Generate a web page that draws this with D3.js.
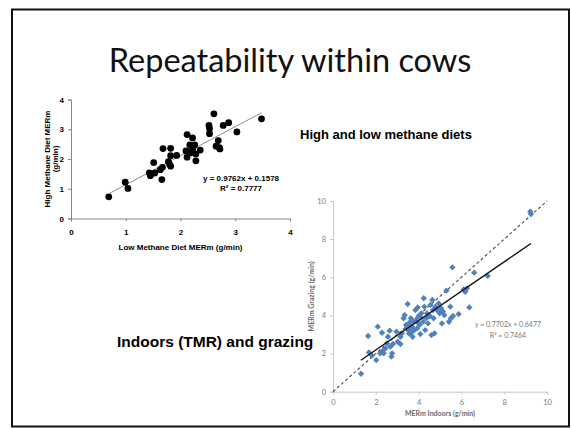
<!DOCTYPE html>
<html><head><meta charset="utf-8">
<script src="https://cdn.jsdelivr.net/npm/d3@7"></script>
<style>html,body{margin:0;padding:0;background:#fff;}svg{display:block;}</style>
</head><body>
<svg id="c" width="571" height="428"></svg>
<script>
// ---- Data ----
const titleText = "Repeatability within cows";
const label1 = "High and low methane diets";
const label2 = "Indoors (TMR) and grazing";

// Left chart: Low vs High methane diet MERm (g/min)
const lowX = [0.69,0.99,1.04,1.43,1.45,1.51,1.53,1.63,1.66,1.67,1.68,1.78,1.80,1.82,1.82,1.82,1.93,2.10,2.12,2.12,2.17,2.20,2.22,2.22,2.26,2.28,2.28,2.36,2.52,2.53,2.53,2.61,2.65,2.69,2.71,2.72,2.78,2.88,3.03,3.48];
const highY = [0.73,1.22,1.01,1.53,1.44,1.88,1.53,1.64,1.31,1.72,2.35,1.91,1.82,1.76,2.36,2.11,2.12,2.27,2.06,2.82,2.47,2.21,2.33,2.71,2.47,2.17,1.94,2.30,3.13,3.02,2.85,3.52,2.43,2.62,2.38,2.34,3.13,3.22,2.91,3.35];
const leftTicks = [0,1,2,3,4];
const leftTrend = {slope:0.9762, intercept:0.1578, xMin:0.7, xMax:3.48};
const leftEq = ["y = 0.9762x + 0.1578", "R\u00B2 = 0.7777"];
const leftXTitle = "Low Methane Diet MERm (g/min)";
const leftYTitle = ["High Methane Diet MERm", "(g/min)"];

// Right chart: Indoors vs Grazing MERm (g/min)
const indoorX = [1.31,1.64,1.68,1.82,2.02,2.09,2.21,2.29,2.31,2.37,2.45,2.52,2.57,2.65,2.68,2.76,2.73,2.80,2.96,3.02,3.15,3.15,3.22,3.30,3.35,3.41,3.49,3.54,3.57,3.61,3.64,3.69,3.72,3.77,3.80,3.85,3.89,3.93,3.96,4.00,4.05,4.08,4.13,4.21,4.24,4.27,4.31,4.36,4.39,4.44,4.52,4.55,4.60,4.64,4.67,4.70,4.74,4.78,4.86,4.94,4.98,5.05,5.09,5.14,5.20,5.30,5.42,5.48,5.51,5.58,5.61,5.87,6.11,6.18,6.26,6.37,6.60,7.23,9.22,9.25,3.45,3.62,3.75,3.98,4.10,3.55];
const grazingY = [0.94,2.92,2.06,1.89,1.66,3.41,2.01,3.09,2.13,2.01,2.27,2.53,2.88,3.20,2.36,2.01,1.84,2.50,3.15,2.62,2.50,2.88,3.06,3.85,4.02,3.50,4.60,3.23,3.62,3.06,3.85,3.41,2.88,3.67,3.23,4.28,3.76,3.32,4.42,3.97,3.50,3.02,4.11,3.67,4.90,4.46,3.23,3.85,4.11,3.58,3.97,4.55,2.97,4.81,4.28,3.85,3.06,4.46,4.28,4.63,4.11,4.37,3.58,4.20,4.02,5.30,3.67,4.46,3.85,6.52,3.97,4.07,5.37,5.24,5.42,4.42,6.24,6.07,9.44,9.32,3.30,3.45,3.20,3.60,3.90,3.05];
const rightTicks = [0,2,4,6,8,10];
const rightTrend = {slope:0.7702, intercept:0.6477, xMin:1.3, xMax:9.25};
const identity = {xMin:0, xMax:10};
const rightEq = ["y = 0.7702x + 0.6477", "R\u00B2 = 0.7464"];
const rightXTitle = "MERm Indoors (g/min)";
const rightYTitle = "MERm Grazing (g/min)";

// ---- Drawing ----
const svg = d3.select("#c");
svg.append("rect").attr("x",0).attr("y",0).attr("width",571).attr("height",428).attr("fill","#fff");
// slide frame
svg.append("rect").attr("x",12).attr("y",9.5).attr("width",557).attr("height",417)
  .attr("fill","none").attr("stroke","#111").attr("stroke-width",2);

svg.append("text").attr("x",290).attr("y",72).attr("text-anchor","middle")
  .attr("font-family","Lato, 'Open Sans', sans-serif").attr("font-size",32.5).attr("fill","#111")
  .text(titleText);

const bold = "'Liberation Sans', Arial, sans-serif";
svg.append("text").attr("x",300).attr("y",139).attr("font-family",bold).attr("font-weight","bold")
  .attr("font-size",13).attr("fill","#000").text(label1);
svg.append("text").attr("x",117).attr("y",347).attr("font-family",bold).attr("font-weight","bold")
  .attr("font-size",15.5).attr("fill","#000").text(label2);

const fmt = d3.format("d");

// Left chart
const lx = d3.scaleLinear().domain([0,4]).range([71,290]);
const ly = d3.scaleLinear().domain([0,4]).range([218.5,99.5]);
const gL = svg.append("g");
const axL = gL.append("g").attr("transform","translate(0,"+ly(0)+")")
  .call(d3.axisBottom(lx).tickValues(leftTicks).tickFormat(fmt).tickSize(3).tickPadding(8));
const ayL = gL.append("g").attr("transform","translate("+lx(0)+",0)")
  .call(d3.axisLeft(ly).tickValues(leftTicks).tickFormat(fmt).tickSize(3).tickPadding(4));
[axL, ayL].forEach(a=>{
  a.select(".domain").attr("stroke","#868686");
  a.selectAll(".tick line").attr("stroke","#868686");
  a.selectAll("text").attr("font-family",bold).attr("font-weight","bold").attr("font-size",8).attr("fill","#000");
});
gL.append("line")
  .attr("x1",lx(leftTrend.xMin)).attr("y1",ly(leftTrend.slope*leftTrend.xMin+leftTrend.intercept))
  .attr("x2",lx(leftTrend.xMax)).attr("y2",ly(leftTrend.slope*leftTrend.xMax+leftTrend.intercept))
  .attr("stroke","#8c8c8c").attr("stroke-width",1);
gL.selectAll("circle.pt").data(lowX.map((x,i)=>[x,highY[i]])).join("circle")
  .attr("class","pt").attr("cx",d=>lx(d[0])).attr("cy",d=>ly(d[1])).attr("r",3.4).attr("fill","#000");
gL.selectAll("text.eq").data(leftEq).join("text").attr("class","eq")
  .attr("x",241).attr("y",(d,i)=>181+i*10).attr("text-anchor","middle")
  .attr("font-family",bold).attr("font-weight","bold").attr("font-size",8).attr("fill","#000").text(d=>d);
gL.append("text").attr("x",(lx(0)+lx(4))/2).attr("y",250).attr("text-anchor","middle")
  .attr("font-family",bold).attr("font-weight","bold").attr("font-size",8).attr("fill","#000").text(leftXTitle);
gL.selectAll("text.yt").data(leftYTitle).join("text").attr("class","yt")
  .attr("transform",(d,i)=>"translate("+(50+i*8)+","+((ly(0)+ly(4))/2)+") rotate(-90)")
  .attr("text-anchor","middle")
  .attr("font-family",bold).attr("font-weight","bold").attr("font-size",8).attr("fill","#000").text(d=>d);

// Right chart
const rx = d3.scaleLinear().domain([0,10]).range([333,547]);
const ry = d3.scaleLinear().domain([0,10]).range([391.7,201]);
const cal = "Lato, 'Open Sans', sans-serif";
const gR = svg.append("g");
const axR = gR.append("g").attr("transform","translate(0,"+ry(0)+")")
  .call(d3.axisBottom(rx).tickValues(rightTicks).tickFormat(fmt).tickSize(3).tickPadding(5));
const ayR = gR.append("g").attr("transform","translate("+rx(0)+",0)")
  .call(d3.axisLeft(ry).tickValues(rightTicks).tickFormat(fmt).tickSize(3).tickPadding(4));
[axR, ayR].forEach(a=>{
  a.select(".domain").attr("stroke","#c8c8c8");
  a.selectAll(".tick line").attr("stroke","#c8c8c8");
  a.selectAll("text").attr("font-family",cal).attr("font-size",7.5).attr("fill","#7a7a7a");
});
gR.append("line")
  .attr("x1",rx(identity.xMin)).attr("y1",ry(identity.xMin))
  .attr("x2",rx(identity.xMax)).attr("y2",ry(identity.xMax))
  .attr("stroke","#555").attr("stroke-width",1.2).attr("stroke-dasharray","3,2.5");
const sq = d3.symbol().type(d3.symbolSquare).size(20);
gR.selectAll("path.pt").data(indoorX.map((x,i)=>[x,grazingY[i]])).join("path")
  .attr("class","pt").attr("d",sq)
  .attr("transform",d=>"translate("+rx(d[0])+","+ry(d[1])+") rotate(45)")
  .attr("fill","#4f81bd");
gR.append("line")
  .attr("x1",rx(rightTrend.xMin)).attr("y1",ry(rightTrend.slope*rightTrend.xMin+rightTrend.intercept))
  .attr("x2",rx(rightTrend.xMax)).attr("y2",ry(rightTrend.slope*rightTrend.xMax+rightTrend.intercept))
  .attr("stroke","#111").attr("stroke-width",1.4);
gR.selectAll("text.eq").data(rightEq).join("text").attr("class","eq")
  .attr("x",508).attr("y",(d,i)=>327+i*10.5).attr("text-anchor","middle")
  .attr("font-family",cal).attr("font-size",7).attr("fill","#7a7a7a").text(d=>d);
gR.append("text").attr("x",(rx(0)+rx(10))/2).attr("y",416).attr("text-anchor","middle")
  .attr("font-family",cal).attr("font-weight","bold").attr("font-size",7).attr("fill","#6a6a6a").text(rightXTitle);
gR.append("text").attr("transform","translate(314,"+((ry(0)+ry(10))/2)+") rotate(-90)")
  .attr("text-anchor","middle")
  .attr("font-family",cal).attr("font-weight","bold").attr("font-size",7).attr("fill","#6a6a6a").text(rightYTitle);
</script>
</body></html>
